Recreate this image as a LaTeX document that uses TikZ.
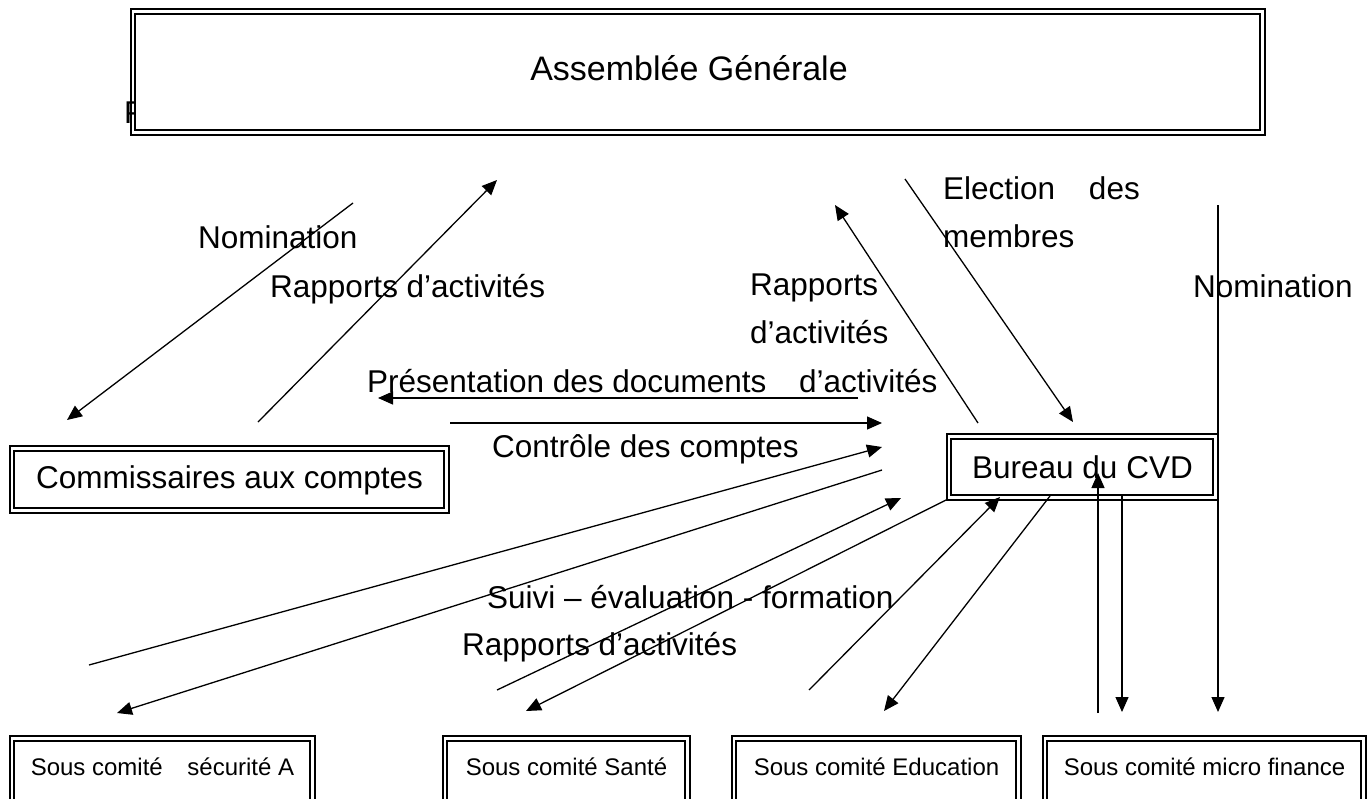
\documentclass[tikz,border=0pt]{standalone}
\usepackage{fontspec}
\setmainfont{Liberation Sans}
\usetikzlibrary{arrows.meta}
\begin{document}
\begin{tikzpicture}[x=1pt,y=-1pt,
  big/.style={font=\fontsize{31.5}{36}\selectfont},
  huge/.style={font=\fontsize{34}{40}\selectfont},
  small/.style={font=\fontsize{24}{28}\selectfont},
  lbl/.style={big, inner sep=0pt, anchor=base west},
  box/.style={draw, line width=1.6pt, inner sep=0pt, anchor=base},
  innerline/.style={line width=2.2pt},
  conn/.style={line width=1.3pt, -{Triangle[length=15pt,width=13pt]}}
]
\useasboundingbox (0,0) rectangle (1372,798);
\clip (0,0) rectangle (1372,798);
\fill[white] (0,0) rectangle (1372,798);

% partly hidden letter behind the top box
\node[lbl] (pfrag) at (124,123) {P};
\fill[white] (134,12) rectangle (1261,131);

% boxes
\node[box, minimum width=1134pt, text height=71pt, text depth=55pt] (ag) at (698,80) {};
\node[huge, inner sep=0pt, anchor=base] (agt) at (689,80) {Assemblée Générale};
\node[box, big, fill=white, minimum width=439pt, text height=42pt, text depth=25pt] (cac) at (229.5,488) {Commissaires aux comptes};
\node[box, big, fill=white, minimum width=271pt, text height=44pt, text depth=22pt] (bur) at (1082.5,478) {Bureau du CVD};
\node[box, small, fill=white, minimum width=305pt, text height=39pt, text depth=60pt] (sca) at (162.5,775) {Sous comité\hspace*{18pt} sécurité A};
\node[box, small, fill=white, minimum width=247pt, text height=39pt, text depth=60pt] (scs) at (566.5,775) {Sous comité Santé};
\node[box, small, fill=white, minimum width=289pt, text height=39pt, text depth=60pt] (sce) at (876.5,775) {Sous comité Education};
\node[box, small, fill=white, minimum width=323pt, text height=39pt, text depth=60pt] (scm) at (1204.5,775) {Sous comité micro finance};

\foreach \n in {ag,cac,bur,sca,scs,sce,scm}{
  \draw[innerline] ([shift={(5pt,-5.5pt)}]\n.north west) rectangle ([shift={(-5.5pt,6pt)}]\n.south east);
}

% labels
\node[lbl] (l1) at (198,248) {Nomination};
\node[lbl] (l2) at (270,297) {Rapports d’activités};
\node[lbl] (l3) at (750,295) {Rapports};
\node[lbl] (l4) at (750,343) {d’activités};
\node[lbl] (l5) at (943,199) {Election\hspace*{25pt} des};
\node[lbl] (l6) at (943,247) {membres};
\node[lbl] (l7) at (1193,297) {Nomination};
\node[lbl] (l8) at (367,392) {Présentation des documents\hspace*{24pt} d’activités};
\node[lbl] (l9) at (492,457) {Contrôle des comptes};
\node[lbl] (l10) at (487,608) {Suivi – évaluation - formation};
\node[lbl] (l11) at (462,655) {Rapports d’activités};

% connector end points
\coordinate (a1) at (353,203);  \coordinate (b1) at (67,420);
\coordinate (a2) at (258,422);  \coordinate (b2) at (497,180);
\coordinate (a3) at (858,398);  \coordinate (b3) at (378,398);
\coordinate (a4) at (450,423);  \coordinate (b4) at (882,423);
\coordinate (a5) at (978,423);  \coordinate (b5) at (835,205);
\coordinate (a6) at (905,179);  \coordinate (b6) at (1073,422);
\coordinate (a7) at (1218,205); \coordinate (b7) at (1218,712);
\coordinate (a8) at (1098,713); \coordinate (b8) at (1098,473);
\coordinate (a9) at (1122,496); \coordinate (b9) at (1122,712);
\coordinate (a10) at (89,665);  \coordinate (b10) at (882,447);
\coordinate (a11) at (882,470); \coordinate (b11) at (117,713);
\coordinate (a12) at (497,690); \coordinate (b12) at (901,498);
\coordinate (a13) at (948,499); \coordinate (b13) at (526,711);
\coordinate (a14) at (809,690); \coordinate (b14) at (1000,497);
\coordinate (a15) at (1050,496); \coordinate (b15) at (884,711);

\foreach \i in {1,...,15}{
  \draw[conn] (a\i) -- (b\i);
}
\end{tikzpicture}
\end{document}
